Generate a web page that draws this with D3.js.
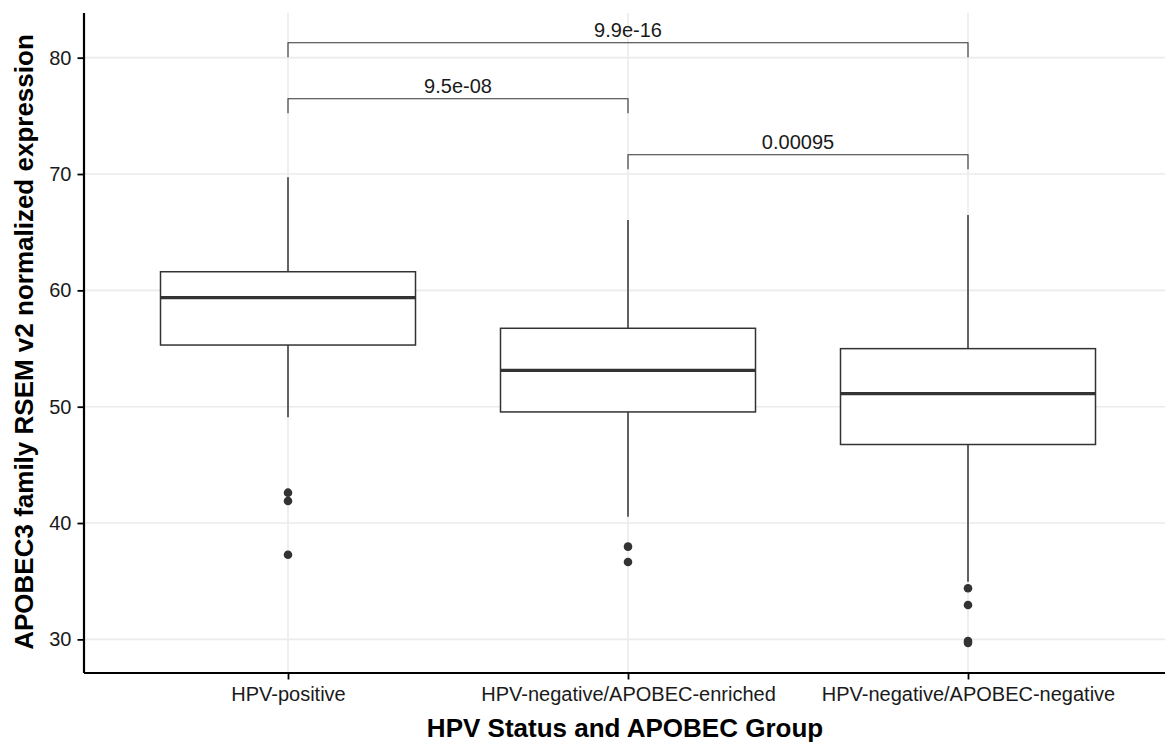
<!DOCTYPE html>
<html>
<head>
<meta charset="utf-8">
<script src="https://cdn.jsdelivr.net/npm/d3@7"></script>
<style>
  body { margin: 0; background: #fff; }
  text { font-family: "Liberation Sans", Arial, Helvetica, sans-serif; }
</style>
</head>
<body>
<div id="chart"></div>
<script>
// Box plot: APOBEC3 expression by HPV / APOBEC group

// Data
var groups = ["HPV-positive", "HPV-negative/APOBEC-enriched", "HPV-negative/APOBEC-negative"];
var whiskerLow = [49.1, 40.55, 34.95];
var q1 = [55.3, 49.55, 46.75];
var medians = [59.37, 53.13, 51.12];
var q3 = [61.6, 56.74, 54.99];
var whiskerHigh = [69.72, 66.05, 66.48];
var outliers = [
	[42.61, 41.9, 37.28],
	[37.97, 36.65],
	[34.39, 32.96, 29.85, 29.7]
];
var yTicks = [30, 40, 50, 60, 70, 80];

// Pairwise comparisons (from, to, bracket height, p label)
var compFrom = [0, 0, 1];
var compTo = [2, 1, 2];
var compY = [81.28, 76.47, 71.66];
var compLabels = ["9.9e-16", "9.5e-08", "0.00095"];

var svgWidth = 1165;
var svgHeight = 742;

var margin = { top: 13, left: 84, bottom: 69, right: -7 };
var chartWidth = svgWidth - margin.left - margin.right;
var chartHeight = svgHeight - margin.top - margin.bottom;

var svg = d3.select("#chart")
	.append("svg")
	.attr("width", svgWidth)
	.attr("height", svgHeight);

var chartGroup = svg.append("g")
	.attr("transform", `translate(${margin.left}, ${margin.top})`);

// Scales
var xScale = d3.scalePoint()
	.domain(groups)
	.range([0, chartWidth])
	.padding(0.6);

var yScale = d3.scaleLinear()
	.domain([27.11, 83.84])
	.range([chartHeight, 0]);

var boxWidth = xScale.step() * 0.75;

// Grid lines
chartGroup.append("g")
	.selectAll("line.hgrid")
	.data(yTicks)
	.enter()
	.append("line")
	.attr("x1", 0)
	.attr("x2", chartWidth)
	.attr("y1", d => yScale(d))
	.attr("y2", d => yScale(d))
	.attr("stroke", "#ebebeb")
	.attr("stroke-width", 1.6);

chartGroup.append("g")
	.selectAll("line.vgrid")
	.data(groups)
	.enter()
	.append("line")
	.attr("x1", d => xScale(d))
	.attr("x2", d => xScale(d))
	.attr("y1", 0)
	.attr("y2", chartHeight)
	.attr("stroke", "#ebebeb")
	.attr("stroke-width", 1.6);

// Boxes
var boxes = chartGroup.selectAll("g.box")
	.data(groups)
	.enter()
	.append("g")
	.attr("class", "box");

boxes.append("line")
	.attr("x1", d => xScale(d))
	.attr("x2", d => xScale(d))
	.attr("y1", (d, i) => yScale(whiskerHigh[i]))
	.attr("y2", (d, i) => yScale(q3[i]))
	.attr("stroke", "#333")
	.attr("stroke-width", 1.5);

boxes.append("line")
	.attr("x1", d => xScale(d))
	.attr("x2", d => xScale(d))
	.attr("y1", (d, i) => yScale(q1[i]))
	.attr("y2", (d, i) => yScale(whiskerLow[i]))
	.attr("stroke", "#333")
	.attr("stroke-width", 1.5);

boxes.append("rect")
	.attr("x", d => xScale(d) - boxWidth / 2)
	.attr("width", boxWidth)
	.attr("y", (d, i) => yScale(q3[i]))
	.attr("height", (d, i) => yScale(q1[i]) - yScale(q3[i]))
	.attr("fill", "white")
	.attr("stroke", "#333")
	.attr("stroke-width", 1.5);

boxes.append("line")
	.attr("x1", d => xScale(d) - boxWidth / 2)
	.attr("x2", d => xScale(d) + boxWidth / 2)
	.attr("y1", (d, i) => yScale(medians[i]))
	.attr("y2", (d, i) => yScale(medians[i]))
	.attr("stroke", "#333")
	.attr("stroke-width", 3.2);

// Outliers
var outlierPoints = [];
groups.forEach((g, i) => {
	outliers[i].forEach(v => outlierPoints.push({ group: g, value: v }));
});

chartGroup.selectAll("circle")
	.data(outlierPoints)
	.enter()
	.append("circle")
	.attr("cx", d => xScale(d.group))
	.attr("cy", d => yScale(d.value))
	.attr("r", 4.3)
	.attr("fill", "#333");

// Significance brackets
var brackets = chartGroup.selectAll("g.bracket")
	.data(compLabels)
	.enter()
	.append("g")
	.attr("class", "bracket");

var legDrop = 1.25;

brackets.append("path")
	.attr("d", (d, i) => {
		var x1 = xScale(groups[compFrom[i]]);
		var x2 = xScale(groups[compTo[i]]);
		var y = yScale(compY[i]);
		var yLeg = yScale(compY[i] - legDrop);
		return `M${x1},${yLeg}V${y}H${x2}V${yLeg}`;
	})
	.attr("fill", "none")
	.attr("stroke", "#333")
	.attr("stroke-width", 1.1);

brackets.append("text")
	.attr("x", (d, i) => (xScale(groups[compFrom[i]]) + xScale(groups[compTo[i]])) / 2)
	.attr("y", (d, i) => yScale(compY[i]) - 5.6)
	.attr("text-anchor", "middle")
	.attr("font-size", "20px")
	.attr("fill", "#1a1a1a")
	.text(d => d);

// Axes
var xAxis = d3.axisBottom(xScale).tickSize(6.5).tickPadding(7);
var yAxis = d3.axisLeft(yScale).tickValues(yTicks).tickSize(6.5).tickPadding(6);

var xAxisG = chartGroup.append("g")
	.attr("transform", `translate(0, ${chartHeight})`)
	.call(xAxis);

var yAxisG = chartGroup.append("g")
	.call(yAxis);

[xAxisG, yAxisG].forEach(g => {
	g.select(".domain")
		.attr("stroke", "black")
		.attr("stroke-width", 2.2)
		.attr("d", g === xAxisG ? `M0,0H${chartWidth}` : `M0,${chartHeight}V0`);
	g.selectAll(".tick line").attr("stroke", "black").attr("stroke-width", 1.8);
	g.selectAll(".tick text")
		.attr("font-size", "20px")
		.attr("fill", "#1a1a1a")
		.style("font-family", "'Liberation Sans', Arial, sans-serif");
});

// Axis titles
chartGroup.append("text")
	.attr("transform", `translate(${chartWidth / 2 - 3}, ${chartHeight + 63.7})`)
	.attr("text-anchor", "middle")
	.attr("font-size", "26px")
	.attr("font-weight", "bold")
	.attr("fill", "black")
	.text("HPV Status and APOBEC Group");

chartGroup.append("text")
	.attr("transform", `translate(-51, ${chartHeight / 2 - 1})rotate(-90)`)
	.attr("text-anchor", "middle")
	.attr("font-size", "26px")
	.attr("font-weight", "bold")
	.attr("fill", "black")
	.text("APOBEC3 family RSEM v2 normalized expression");
</script>
</body>
</html>
